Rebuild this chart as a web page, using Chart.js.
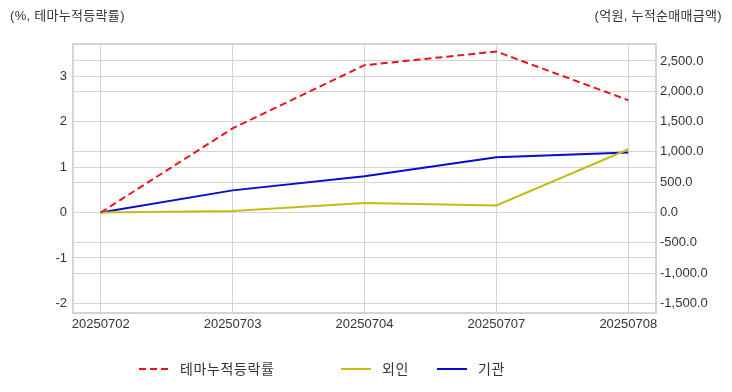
<!DOCTYPE html>
<html lang="ko">
<head>
<meta charset="utf-8">
<title>테마누적등락률</title>
<script src="https://cdn.jsdelivr.net/npm/chart.js@4.4.1/dist/chart.umd.min.js"></script>
<style>
  body { margin: 0; background: #fff; }
  #wrap { position: relative; width: 732px; height: 392px; font-family: "Liberation Sans", "Noto Sans CJK KR", sans-serif; color: #333; }
  #chart { position: absolute; left: 0; top: 0; }
  .axisTitle { position: absolute; top: 8px; font-size: 13px; line-height: 16px; letter-spacing: 0.3px; }
  #legend { position: absolute; top: 359px; left: 0; width: 732px; height: 20px; font-size: 14px; letter-spacing: 0.6px; }
  .item { position: absolute; top: 0; height: 20px; line-height: 20px; white-space: nowrap; }
  .item svg { position: absolute; left: 0; top: 0; }
  .item span { position: absolute; top: 0; }
</style>
</head>
<body>
<div id="wrap">
  <canvas id="chart" width="732" height="392"></canvas>
  <div class="axisTitle" style="left:10px">(%, 테마누적등락률)</div>
  <div class="axisTitle" style="right:10px">(억원, 누적순매매금액)</div>
  <div id="legend"></div>
</div>
<script>
// dates on the x axis
const dates = ['20250702', '20250703', '20250704', '20250707', '20250708'];

// left axis (%)
const themeReturn = [0, 1.85, 3.24, 3.54, 2.47];
const leftTicks = [-2, -1, 0, 1, 2, 3];

// right axis (억원)
const foreignNet = [0, 22, 154, 116, 1043];
const institutionNet = [0, 364, 596, 910, 988];
const rightTicks = [-1500, -1000, -500, 0, 500, 1000, 1500, 2000, 2500];

const seriesNames = ['테마누적등락률', '외인', '기관'];
const seriesColors = ['#e8141a', '#c2bd14', '#0a0ad0'];

const gridColor = '#d4d4d4';
const tickFont = { family: '"Liberation Sans", "Noto Sans CJK KR", sans-serif', size: 13 };

function toPoints(values) {
  return values.map((v, i) => ({ x: i, y: v }));
}

// light frame round the plot area, like the original
const frame = {
  id: 'frame',
  afterDraw(chart) {
    const a = chart.chartArea;
    const c = chart.ctx;
    c.save();
    c.strokeStyle = gridColor;
    c.lineWidth = 2;
    c.strokeRect(a.left, a.top, a.right - a.left, a.bottom - a.top);
    c.restore();
  }
};

const ctx = document.getElementById('chart');

new Chart(ctx, {
  type: 'line',
  data: {
    datasets: [
      {
        label: seriesNames[0],
        data: toPoints(themeReturn),
        borderColor: seriesColors[0],
        borderWidth: 2,
        borderDash: [7, 4],
        yAxisID: 'yLeft'
      },
      {
        label: seriesNames[1],
        data: toPoints(foreignNet),
        borderColor: seriesColors[1],
        borderWidth: 2,
        yAxisID: 'yRight'
      },
      {
        label: seriesNames[2],
        data: toPoints(institutionNet),
        borderColor: seriesColors[2],
        borderWidth: 2,
        yAxisID: 'yRight'
      }
    ]
  },
  options: {
    responsive: false,
    animation: false,
    layout: { padding: { left: 0, right: 0, top: 44, bottom: 59 } },
    elements: { point: { radius: 0 }, line: { tension: 0 } },
    plugins: { legend: { display: false }, tooltip: { enabled: false } },
    scales: {
      x: {
        type: 'linear',
        min: -0.21,
        max: 4.21,
        grid: { color: gridColor, drawTicks: false },
        border: { color: gridColor, width: 2 },
        ticks: {
          autoSkip: false,
          maxRotation: 0,
          padding: 4,
          color: '#333',
          font: tickFont,
          callback: (v) => dates[v] || ''
        },
        afterBuildTicks: (axis) => { axis.ticks = dates.map((d, i) => ({ value: i })); },
        afterFit: (axis) => { axis.height = 20; }
      },
      yLeft: {
        position: 'left',
        min: -2.21,
        max: 3.706,
        grid: { color: gridColor, drawTicks: false },
        border: { color: gridColor, width: 2 },
        ticks: {
          padding: 6,
          color: '#333',
          font: tickFont
        },
        afterBuildTicks: (axis) => { axis.ticks = leftTicks.map(v => ({ value: v })); },
        afterFit: (axis) => { axis.width = 73; }
      },
      yRight: {
        position: 'right',
        min: -1660,
        max: 2780,
        grid: { color: gridColor, drawTicks: false },
        border: { color: gridColor, width: 2 },
        ticks: {
          padding: 4,
          color: '#333',
          font: tickFont,
          callback: (v) => v.toLocaleString('en-US', { minimumFractionDigits: 1, maximumFractionDigits: 1 })
        },
        afterBuildTicks: (axis) => { axis.ticks = rightTicks.map(v => ({ value: v })); },
        afterFit: (axis) => { axis.width = 76; }
      }
    }
  },
  plugins: [frame]
});

// html legend under the chart
const legendSpots = [139, 341, 437];
const legend = document.getElementById('legend');
seriesNames.forEach((name, i) => {
  const item = document.createElement('div');
  item.className = 'item';
  item.style.left = legendSpots[i] + 'px';
  const dash = i === 0 ? ' stroke-dasharray="7 4"' : '';
  item.innerHTML =
    '<svg width="30" height="20"><line x1="0" y1="10" x2="30" y2="10" stroke="' + seriesColors[i] +
    '" stroke-width="2"' + dash + '/></svg><span style="left:41px">' + name + '</span>';
  legend.appendChild(item);
});
</script>
</body>
</html>
